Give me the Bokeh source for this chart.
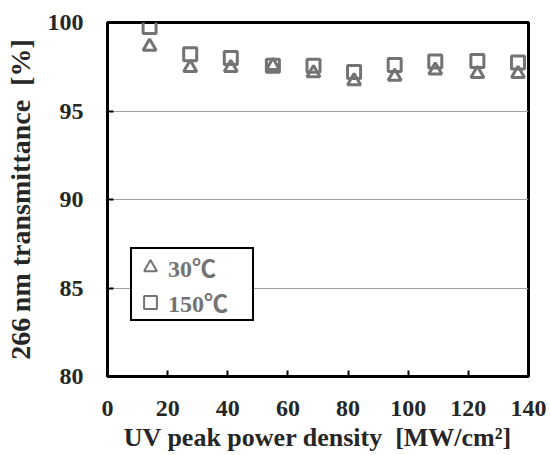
from bokeh.plotting import figure
from bokeh.models import FixedTicker, Legend, LegendItem, Range1d
from bokeh.embed import file_html
from bokeh.resources import INLINE

# Data
power_density = [14, 27.5, 41, 55, 68.5, 82, 95.5, 109, 123, 136.5]
trans_30C = [98.65, 97.45, 97.45, 97.55, 97.15, 96.7, 96.95, 97.3, 97.1, 97.1]
trans_150C = [99.75, 98.2, 98.0, 97.55, 97.55, 97.2, 97.6, 97.8, 97.83, 97.74]
x_ticks = [0, 20, 40, 60, 80, 100, 120, 140]
y_ticks = [80, 85, 90, 95, 100]
series_labels = ["30\u2103", "150\u2103"]

FONT = "Liberation Serif"
LEG_FONT = "'Liberation Serif', 'Noto Sans CJK JP'"
MARK = "#737373"
TEXT = "#262626"

p = figure(width=550, height=455, output_backend="svg", toolbar_location=None,
           x_range=Range1d(0, 140), y_range=Range1d(80, 100),
           min_border_left=107, min_border_right=22, min_border_top=22,
           min_border_bottom=79)
p.background_fill_color = "white"
p.border_fill_color = "white"
p.outline_line_color = "black"
p.outline_line_alpha = 1.0
p.outline_line_width = 3

tri = p.scatter(power_density, trans_30C, marker="triangle", size=13,
                fill_color=None, line_color=MARK, line_width=3)
sq = p.scatter(power_density, trans_150C, marker="square", size=13,
               fill_color=None, line_color=MARK, line_width=3)

# hidden twins of the series, used only for thinner legend swatches
leg_tri = p.scatter(power_density, trans_30C, marker="triangle", fill_color=None,
                    line_color=MARK, line_width=2, visible=False)
leg_sq = p.scatter(power_density, trans_150C, marker="square", fill_color=None,
                   line_color=MARK, line_width=2, visible=False)

p.xgrid.grid_line_color = None
p.ygrid.grid_line_color = "#a0a0a0"
p.ygrid.grid_line_width = 1
p.xaxis.ticker = FixedTicker(ticks=x_ticks)
p.yaxis.ticker = FixedTicker(ticks=y_ticks)

for ax in (p.xaxis[0], p.yaxis[0]):
    ax.axis_line_color = "black"
    ax.axis_line_width = 2
    ax.major_tick_in = 6
    ax.major_tick_out = 0
    ax.major_tick_line_color = "black"
    ax.major_tick_line_width = 2
    ax.minor_tick_line_color = None
    ax.major_label_text_font = FONT
    ax.major_label_text_font_style = "bold"
    ax.major_label_text_font_size = "24px"
    ax.major_label_text_color = TEXT
    ax.axis_label_text_font = FONT
    ax.axis_label_text_font_style = "bold"
    ax.axis_label_text_color = TEXT

p.xaxis.axis_label_text_font_size = "26px"
p.yaxis.axis_label_text_font_size = "28px"
p.xaxis.axis_label = "UV peak power density\u00a0\u00a0[MW/cm\u00b2]"
p.yaxis.axis_label = "266\u2009nm transmittance\u00a0\u00a0[%]"
p.xaxis.major_label_standoff = 24
p.yaxis.major_label_standoff = 24
p.xaxis.axis_label_standoff = 4
p.yaxis.axis_label_standoff = 9

legend = Legend(items=[LegendItem(label=series_labels[0], renderers=[leg_tri]),
                       LegendItem(label=series_labels[1], renderers=[leg_sq])],
                location=(23, 55))
legend.border_line_color = "black"
legend.border_line_width = 2
legend.border_line_alpha = 1.0
legend.background_fill_alpha = 1
legend.label_text_font = LEG_FONT
legend.label_text_font_style = "bold"
legend.label_text_font_size = "24px"
legend.label_text_line_height = 1.0
legend.label_text_color = MARK
legend.glyph_width = 36
legend.glyph_height = 32
legend.label_standoff = 0
legend.label_height = 32
legend.label_width = 84
legend.padding = 0
legend.spacing = 0
legend.margin = 0
p.add_layout(legend, "center")

open("out.html", "w").write(file_html(p, INLINE))
